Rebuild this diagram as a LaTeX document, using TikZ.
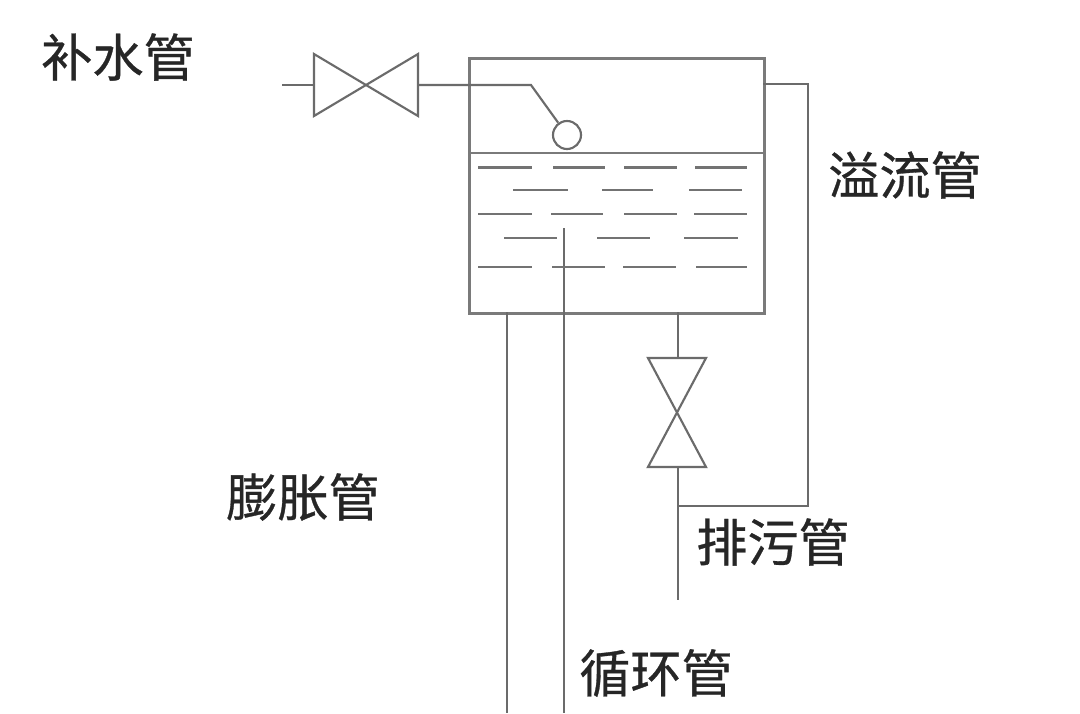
\documentclass[tikz,border=0pt]{standalone}
\usepackage{fontspec}
\newfontfamily\cjk[FakeBold=0.6]{Noto Sans CJK SC}
\tikzset{
  x=0.0264583cm,y=-0.0264583cm,
  tankline/.style={draw=black!52,line width=1.9pt},
  pipe/.style={draw=black!58,line width=1.6pt},
  wave/.style={draw=black!55,line width=1.6pt},
  lab/.style={font=\cjk\fontsize{38.5}{38.5}\selectfont,text=black!85,inner sep=0pt,anchor=center},
}
\begin{document}
\begin{tikzpicture}
\useasboundingbox (0,0) rectangle (1080,713);
\fill[white] (0,0) rectangle (1080,713);
% tank
\node[tankline,draw,minimum width=7.805cm,minimum height=6.747cm,inner sep=0pt,anchor=north west] (tank) at (468,57) {};
\coordinate (wl) at (468,153);
\coordinate (wr) at (763,153);
\draw[tankline] (wl) -- (wr);
% make-up valve
\coordinate (inl) at (282,85);
\coordinate (v1a) at (314,85);
\coordinate (v1b) at (418,85);
\coordinate (fk) at (531,85);
\node[pipe,draw,circle,minimum size=0.741cm,inner sep=0pt] (float) at (567,135) {};
\draw[pipe] (inl) -- (v1a);
\draw[pipe] (314,54) -- (314,116) -- (418,54) -- (418,116) -- cycle;
\draw[pipe] (v1b) -- (fk) -- (float);
% overflow
\coordinate (o1) at (763,84);
\coordinate (o2) at (808,84);
\coordinate (o3) at (808,506);
\coordinate (o4) at (678,506);
\draw[pipe] (o1) -- (o2) -- (o3) -- (o4);
% drain
\coordinate (d0) at (678,312);
\coordinate (d1) at (678,358);
\coordinate (d2) at (678,467);
\coordinate (d3) at (678,600);
\draw[pipe] (d0) -- (d1);
\draw[pipe] (648,358) -- (706,358) -- (648,467) -- (706,467) -- cycle;
\draw[pipe] (d2) -- (d3);
% expansion, circulation
\coordinate (e0) at (507,312);
\coordinate (e1) at (507,713);
\coordinate (c0) at (564,228);
\coordinate (c1) at (564,713);
\draw[pipe] (e0) -- (e1);
\draw[pipe] (c0) -- (c1);
% water marks
\foreach \a/\b/\yy in {
 478/532/167.5, 553/605/167.5, 624/677/167.5, 695/747/167.5,
 513/568/190, 602/653/190, 689/742/190,
 478/532/214, 551/603/214, 624/677/214, 694/747/214,
 504/557/238, 597/650/238, 684/738/238,
 478/532/267, 552/605/267, 623/676/267, 696/747/267}
 {\draw[wave] (\a,\yy) -- (\b,\yy);}
% labels
\node[lab] (l1) at (118,57) {补水管};
\node[lab] (l2) at (905,175) {溢流管};
\node[lab] (l3) at (303,497) {膨胀管};
\node[lab] (l4) at (773,542) {排污管};
\node[lab] (l5) at (656,673) {循环管};
\end{tikzpicture}
\end{document}
